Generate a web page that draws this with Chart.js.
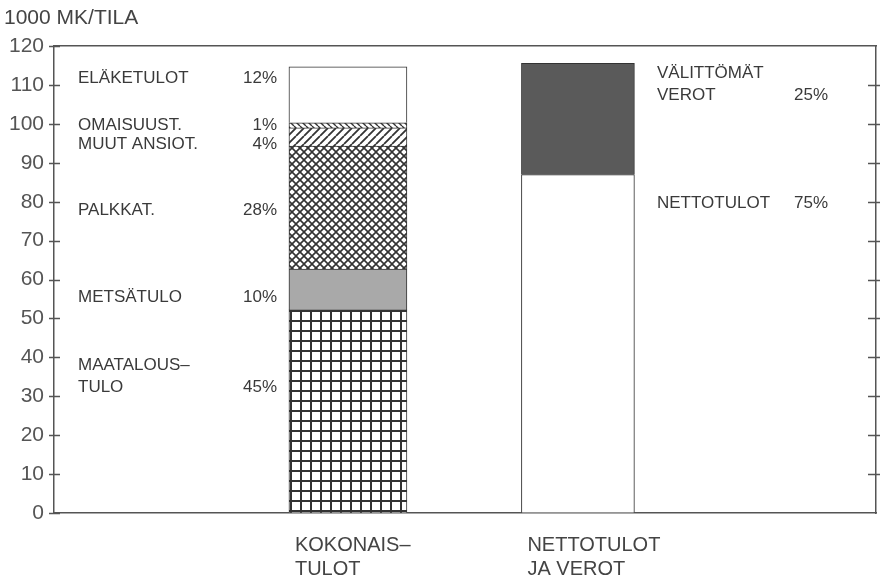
<!DOCTYPE html>
<html>
<head>
<meta charset="utf-8">
<script src="https://cdn.jsdelivr.net/npm/chart.js@4/dist/chart.umd.min.js"></script>
<style>
  html, body { margin: 0; padding: 0; background: #fff; }
  #wrap { width: 880px; height: 582px; }
</style>
</head>
<body>
<div id="wrap"><canvas id="chart"></canvas></div>
<script>
// Bar categories (x axis labels)
const categories = [['KOKONAIS–', 'TULOT'], ['NETTOTULOT', 'JA VEROT']];

// Left bar: total income, stacked bottom -> top (1000 mk per farm)
const incomeNames = [['MAATALOUS–', 'TULO'], ['METSÄTULO'], ['PALKKAT.'], ['MUUT ANSIOT.'], ['OMAISUUST.'], ['ELÄKETULOT']];
const incomeValues = [52.2, 10.5, 31.6, 4.7, 1.3, 14.4];
const incomeShares = ['45%', '10%', '28%', '4%', '1%', '12%'];

// Right bar: net income and direct taxes
const taxNames = [['NETTOTULOT'], ['VÄLITTÖMÄT', 'VEROT']];
const taxValues = [87.0, 28.6];
const taxShares = ['75%', '25%'];

const yTicks = [0, 10, 20, 30, 40, 50, 60, 70, 80, 90, 100, 110, 120];

// where the side texts sit (y value of first line)
const incomeLabelAt = [38, 55.5, 77.9, 94.9, 99.7, 111.8];
const taxLabelAt = [79.7, 113.1];

const INK = '#333';
const FONT = "'Liberation Sans', Arial, sans-serif";
Chart.defaults.font.family = FONT;
Chart.defaults.color = '#444';

const canvas = document.getElementById('chart');
const ctx = canvas.getContext('2d');

function tile(size, draw) {
    const c = document.createElement('canvas');
    c.width = size;
    c.height = size;
    const g = c.getContext('2d');
    g.fillStyle = '#fff';
    g.fillRect(0, 0, size, size);
    g.strokeStyle = INK;
    g.fillStyle = INK;
    draw(g, size);
    return ctx.createPattern(c, 'repeat');
}

function diag(g, s, dir) {
    g.beginPath();
    for (let k = -1; k <= 1; k++) {
        if (dir > 0) {
            g.moveTo(k * s, s);
            g.lineTo(k * s + s, 0);
        } else {
            g.moveTo(k * s, 0);
            g.lineTo(k * s + s, s);
        }
    }
    g.stroke();
}

const squareGrid = tile(10, (g, s) => {
    g.fillRect(0, 0, s, 2);
    g.fillRect(0, 0, 2, s);
});
const crossHatch = tile(8, (g, s) => {
    g.lineWidth = 1.6;
    diag(g, s, 1);
    diag(g, s, -1);
});
const slash = tile(8, (g, s) => {
    g.lineWidth = 1.8;
    diag(g, s, 1);
});
const backslash = tile(6, (g, s) => {
    g.lineWidth = 1.4;
    diag(g, s, -1);
});

const incomeFills = [squareGrid, '#a9a9a9', crossHatch, slash, backslash, '#fff'];
const taxFills = ['#fff', '#5a5a5a'];
const barWidths = [118, 113];

const datasets = [];
incomeValues.forEach((v, i) => {
    datasets.push({
        label: incomeNames[i].join(' '),
        data: [{ x: 0, y: v }],
        stack: 'bars',
        skipNull: true,
        backgroundColor: incomeFills[i],
        borderColor: INK,
        borderWidth: 1,
        barThickness: barWidths[0]
    });
});
taxValues.forEach((v, i) => {
    datasets.push({
        label: taxNames[i].join(' '),
        data: [{ x: 1, y: v }],
        stack: 'bars',
        skipNull: true,
        backgroundColor: taxFills[i],
        borderColor: INK,
        borderWidth: 1,
        barThickness: barWidths[1]
    });
});

// tick marks crossing both vertical axes
const axisTicks = {
    id: 'axisTicks',
    afterDraw(chart) {
        const { ctx, chartArea } = chart;
        const y = chart.scales.y;
        ctx.save();
        ctx.strokeStyle = '#555';
        ctx.lineWidth = 1.3;
        ctx.beginPath();
        yTicks.forEach(v => {
            const py = Math.round(y.getPixelForValue(v)) + 0.5;
            ctx.moveTo(chartArea.left - 5, py);
            ctx.lineTo(chartArea.left + 6, py);
            if (v > 0 && v < 120) {
                ctx.moveTo(chartArea.right - 8, py);
                ctx.lineTo(chartArea.right + 4, py);
            }
        });
        ctx.stroke();
        ctx.restore();
    }
};

// segment names and shares beside the bars, category names under the bars
const sideTexts = {
    id: 'sideTexts',
    afterDatasetsDraw(chart) {
        const { ctx, chartArea } = chart;
        const x = chart.scales.x;
        const y = chart.scales.y;
        const lineGap = 22;
        ctx.save();
        ctx.font = '17px ' + FONT;
        ctx.fillStyle = '#3a3a3a';
        ctx.textBaseline = 'middle';
        const put = (names, shares, at, nameX, shareX) => {
            names.forEach((lines, i) => {
                const y0 = y.getPixelForValue(at[i]);
                ctx.textAlign = 'left';
                lines.forEach((t, k) => ctx.fillText(t, nameX, y0 + k * lineGap));
                ctx.textAlign = 'right';
                ctx.fillText(shares[i], shareX, y0 + (lines.length - 1) * lineGap);
            });
        };
        put(incomeNames, incomeShares, incomeLabelAt, 78, 277);
        put(taxNames, taxShares, taxLabelAt, 657, 828);

        ctx.font = '20px ' + FONT;
        ctx.fillStyle = '#444';
        ctx.textAlign = 'left';
        categories.forEach((lines, i) => {
            const left = x.getPixelForValue(i) - barWidths[i] / 2 + 6;
            lines.forEach((t, k) => ctx.fillText(t, left, chartArea.bottom + 32 + k * 24));
        });
        ctx.restore();
    }
};

new Chart(ctx, {
    type: 'bar',
    data: { datasets: datasets },
    plugins: [sideTexts, axisTicks],
    options: {
        responsive: true,
        maintainAspectRatio: false,
        animation: false,
        layout: { padding: { left: 4, right: 4, top: 0, bottom: 0 } },
        plugins: {
            legend: { display: false },
            tooltip: { enabled: false },
            title: {
                display: true,
                text: '1000 MK/TILA',
                align: 'start',
                color: '#444',
                font: { size: 21, weight: 'normal' },
                padding: { top: 6, bottom: 15 }
            }
        },
        scales: {
            x: {
                type: 'linear',
                stacked: true,
                offset: false,
                min: -1.278,
                max: 2.296,
                afterFit: s => { s.height = 69; },
                grid: { drawOnChartArea: false, drawTicks: false, offset: false },
                border: { display: true, color: '#555', width: 1.5 },
                ticks: { display: false }
            },
            x2: {
                type: 'linear',
                position: 'top',
                min: 0,
                max: 1,
                afterFit: s => { s.height = 0; },
                grid: { drawOnChartArea: false, drawTicks: false },
                border: { display: true, color: '#555', width: 1.5 },
                ticks: { display: false }
            },
            y: {
                stacked: true,
                min: 0,
                max: 120,
                afterBuildTicks: s => { s.ticks = yTicks.map(v => ({ value: v })); },
                afterFit: s => { s.width = 50; },
                grid: { drawOnChartArea: false, drawTicks: false },
                border: { display: true, color: '#555', width: 1.5 },
                ticks: {
                    padding: 10,
                    color: '#555',
                    font: { size: 21 }
                }
            },
            y2: {
                position: 'right',
                min: 0,
                max: 120,
                afterFit: s => { s.width = 0; },
                grid: { drawOnChartArea: false, drawTicks: false },
                border: { display: true, color: '#555', width: 1.5 },
                ticks: { display: false }
            }
        }
    }
});
</script>
</body>
</html>
